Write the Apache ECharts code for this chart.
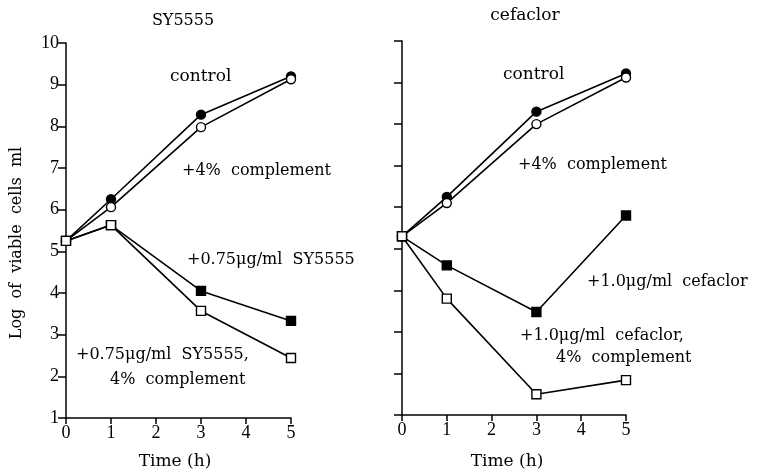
<!DOCTYPE html>
<html><head><meta charset="utf-8">
<script src="https://cdn.jsdelivr.net/npm/echarts@6/dist/echarts.min.js"></script>
<style>html,body{margin:0;padding:0;background:#fff}#c{width:758px;height:473px}</style>
</head><body><div id="c"></div>
<script>
var times = [0, 1, 3, 5];
var xTicks = [0, 1, 2, 3, 4, 5];
var yTicks = [1, 2, 3, 4, 5, 6, 7, 8, 9, 10];
// SY5555 panel
var syControl = [5.25, 6.25, 8.28, 9.2];
var syComplement = [5.25, 6.06, 7.98, 9.13];
var syDrug = [5.25, 5.63, 4.05, 3.33];
var syDrugComplement = [5.25, 5.63, 3.57, 2.44];
// cefaclor panel
var cfControl = [5.3, 6.25, 8.3, 9.22];
var cfComplement = [5.3, 6.1, 8.0, 9.12];
var cfDrug = [5.3, 4.6, 3.48, 5.8];
var cfDrugComplement = [5.3, 3.8, 1.5, 1.84];

var FONT = '"Liberation Serif", "DejaVu Serif", serif';
var WFONT = '"DejaVu Serif", serif';
function pts(arr){ return times.map(function(t,i){ return [t, arr[i]]; }); }
function ser(idx, arr, symbol, filled){
  return {
    type: 'line', xAxisIndex: idx, yAxisIndex: idx, data: pts(arr),
    symbol: symbol, symbolSize: 9,
    lineStyle: {color: '#000', width: 1.6},
    itemStyle: {color: filled ? '#000' : '#fff', borderColor: '#000', borderWidth: 1.4},
    emphasis: {disabled: true}, z: filled ? 3 : 4, animation: false
  };
}
function xAx(idx){
  return {
    type: 'value', gridIndex: idx, min: 0, max: 5, interval: 1,
    axisLine: {show: true, onZero: false, lineStyle: {color: '#000', width: 1.5}},
    axisTick: {show: true, inside: false, length: 6, lineStyle: {color: '#000', width: 1.5}},
    axisLabel: {show: true, color: '#000', fontFamily: FONT, fontSize: 18, margin: 6,
      formatter: function(v){ return xTicks.indexOf(v) >= 0 ? String(v) : ''; }},
    splitLine: {show: false}
  };
}
function yAx(idx, showLabel){
  return {
    type: 'value', gridIndex: idx, min: 1, max: 10, interval: 1,
    axisLine: {show: true, onZero: false, lineStyle: {color: '#000', width: 1.5}},
    axisTick: {show: true, inside: false, length: 8, lineStyle: {color: '#000', width: 1.5}},
    axisLabel: {show: showLabel, color: '#000', fontFamily: FONT, fontSize: 18, margin: 7,
      formatter: function(v){ return yTicks.indexOf(v) >= 0 ? String(v) : ''; }},
    splitLine: {show: false}
  };
}
function txt(x, y, s, opt){
  var o = {type: 'text', x: x, y: y, style: {text: s, fill: '#000', font: '16px ' + WFONT, textAlign: 'left', textVerticalAlign: 'middle'}};
  if (opt) { for (var k in opt) o.style[k] = opt[k]; }
  return o;
}
var chart = echarts.init(document.getElementById('c'), null, {renderer: 'canvas'});
chart.setOption({
  backgroundColor: '#fff',
  animation: false,
  grid: [
    {left: 66, top: 43, width: 225, height: 375},
    {left: 402, top: 41, width: 224, height: 374}
  ],
  xAxis: [xAx(0), xAx(1)],
  yAxis: [yAx(0, true), yAx(1, false)],
  series: [
    ser(0, syControl, 'circle', true),
    ser(0, syComplement, 'circle', false),
    ser(0, syDrug, 'rect', true),
    ser(0, syDrugComplement, 'rect', false),
    ser(1, cfControl, 'circle', true),
    ser(1, cfComplement, 'circle', false),
    ser(1, cfDrug, 'rect', true),
    ser(1, cfDrugComplement, 'rect', false)
  ],
  graphic: [
    txt(183, 21, 'SY5555', {textAlign: 'center', font: '16px ' + WFONT}),
    txt(525, 16, 'cefaclor', {textAlign: 'center', font: '17px ' + WFONT}),
    {type: 'text', x: 17, y: 243, rotation: Math.PI / 2,
      style: {text: 'Log  of  viable  cells  ml', fill: '#000', font: '16px ' + WFONT, textAlign: 'center', textVerticalAlign: 'middle'}},
    txt(175, 462, 'Time (h)', {textAlign: 'center', font: '17px ' + WFONT}),
    txt(507, 462, 'Time (h)', {textAlign: 'center', font: '17px ' + WFONT}),
    txt(170, 77, 'control', {font: '17px ' + WFONT}),
    txt(182, 171, '+4%  complement'),
    txt(187, 260, '+0.75μg/ml  SY5555'),
    txt(76, 355, '+0.75μg/ml  SY5555,'),
    txt(110, 380, '4%  complement'),
    txt(503, 75, 'control', {font: '17px ' + WFONT}),
    txt(518, 165, '+4%  complement'),
    txt(587, 282, '+1.0μg/ml  cefaclor'),
    txt(520, 336, '+1.0μg/ml  cefaclor,'),
    txt(556, 358, '4%  complement')
  ]
});
</script></body></html>
